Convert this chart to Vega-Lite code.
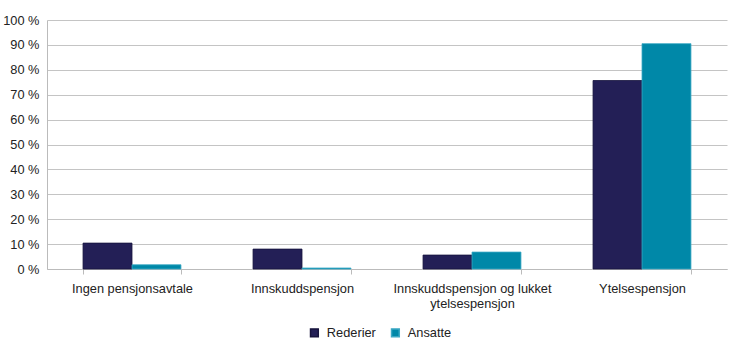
{
  "$schema": "https://vega.github.io/schema/vega-lite/v6.json",
  "autosize": {"type": "none"},
  "width": 680,
  "height": 249,
  "padding": {"left": 47, "top": 20, "right": 3, "bottom": 87},
  "background": "white",
  "data": {
    "values": [
      {"kategori": "Ingen pensjonsavtale", "serie": "Rederier", "andel": 10.4},
      {"kategori": "Ingen pensjonsavtale", "serie": "Ansatte", "andel": 1.7},
      {"kategori": "Innskuddspensjon", "serie": "Rederier", "andel": 8.0},
      {"kategori": "Innskuddspensjon", "serie": "Ansatte", "andel": 0.4},
      {"kategori": "Innskuddspensjon og lukket ytelsespensjon", "serie": "Rederier", "andel": 5.6},
      {"kategori": "Innskuddspensjon og lukket ytelsespensjon", "serie": "Ansatte", "andel": 6.8},
      {"kategori": "Ytelsespensjon", "serie": "Rederier", "andel": 75.7},
      {"kategori": "Ytelsespensjon", "serie": "Ansatte", "andel": 90.5}
    ]
  },
  "config": {
    "font": "Liberation Sans",
    "view": {"stroke": null}
  },
  "mark": {"type": "bar", "strokeWidth": 0.8},
  "encoding": {
    "x": {
      "field": "kategori",
      "type": "nominal",
      "sort": ["Ingen pensjonsavtale", "Innskuddspensjon", "Innskuddspensjon og lukket ytelsespensjon", "Ytelsespensjon"],
      "scale": {"paddingInner": 0.424, "paddingOuter": 0.212},
      "axis": {
        "title": null,
        "labelAngle": 0,
        "labelExpr": "datum.value == 'Innskuddspensjon og lukket ytelsespensjon' ? ['Innskuddspensjon og lukket', 'ytelsespensjon'] : datum.value",
        "labelFontSize": 12.8,
        "labelColor": "#222222",
        "labelPadding": 8,
        "labelLineHeight": 15,
        "tickBand": "extent",
        "tickColor": "#bbbbbb",
        "tickSize": 5,
        "domainColor": "#bbbbbb",
        "grid": false
      }
    },
    "xOffset": {
      "field": "serie",
      "type": "nominal",
      "sort": ["Rederier", "Ansatte"],
      "scale": {"paddingInner": 0, "paddingOuter": 0}
    },
    "y": {
      "field": "andel",
      "type": "quantitative",
      "scale": {"domain": [0, 100]},
      "axis": {
        "title": null,
        "values": [0, 10, 20, 30, 40, 50, 60, 70, 80, 90, 100],
        "labelExpr": "datum.value + ' %'",
        "labelFontSize": 12.8,
        "labelColor": "#222222",
        "labelPadding": 8,
        "ticks": false,
        "domainColor": "#bbbbbb",
        "gridColor": "#c4c4c4",
        "grid": true
      }
    },
    "color": {
      "field": "serie",
      "type": "nominal",
      "sort": ["Rederier", "Ansatte"],
      "scale": {"domain": ["Rederier", "Ansatte"], "range": ["#231f56", "#0088a8"]},
      "legend": {
        "title": null,
        "orient": "none",
        "legendX": 261,
        "legendY": 306,
        "direction": "horizontal",
        "symbolType": "square",
        "symbolSize": 60,
        "labelFontSize": 12.8,
        "labelColor": "#222222",
        "labelOffset": 6,
        "columnPadding": 12
      }
    },
    "stroke": {
      "field": "serie",
      "type": "nominal",
      "scale": {"domain": ["Rederier", "Ansatte"], "range": ["#17143d", "#3ba8c4"]},
      "legend": null
    }
  }
}
